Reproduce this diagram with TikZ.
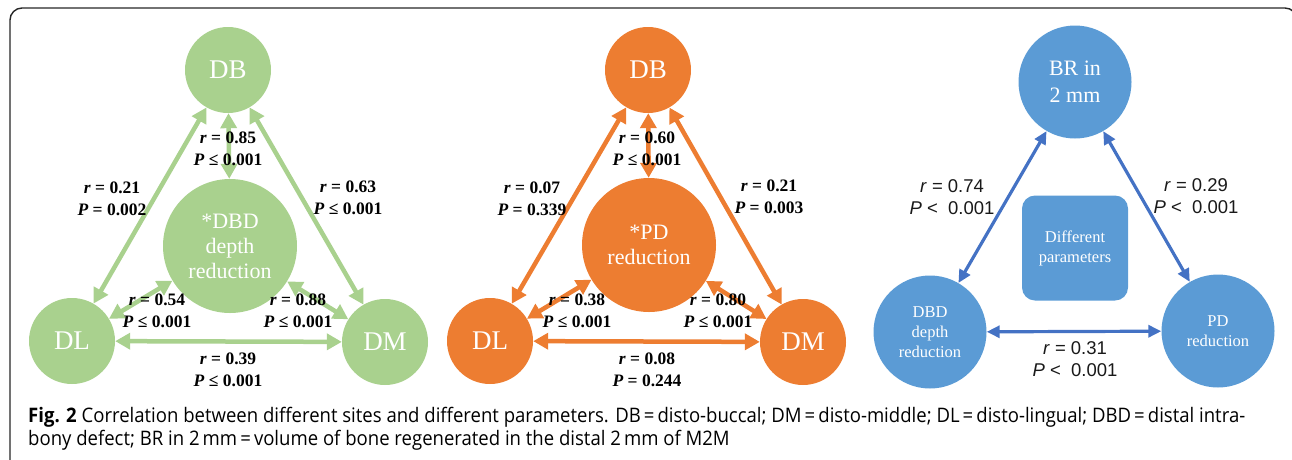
\documentclass[tikz,border=0pt]{standalone}
\usepackage{fontspec}
\setmainfont{Liberation Serif}
\newfontfamily\lsans{Liberation Sans}
\newfontfamily\capfont{Open Sans}
\usetikzlibrary{arrows.meta}
\definecolor{gfill}{HTML}{A9D18E}
\definecolor{garrow}{HTML}{A9D18E}
\definecolor{ofill}{HTML}{ED7D31}
\definecolor{bfill}{HTML}{5B9BD5}
\definecolor{barrow}{HTML}{4472C4}
\newlength\capw
\newcommand\capA{\textbf{Fig. 2} Correlation between different sites and different parameters. DB\,=\,disto-buccal; DM\,=\,disto-middle; DL\,=\,disto-lingual; DBD\,=\,distal intra-}
\newcommand\capB{bony defect; BR in 2\,mm\,=\,volume of bone regenerated in the distal 2\,mm of M2M}
\newcommand\capsize{\capfont\fontsize{20}{23}\selectfont}
\newcommand\plt{\textit{P} <\hspace{0.55em}0.001}
\newsavebox\capboxA
\tikzset{
  site/.style={circle, inner sep=0pt, minimum size=86pt, text=white, font=\fontsize{27}{30}\selectfont},
  bigsite/.style={circle, inner sep=0pt, minimum size=134pt, text=white, align=center, font=\fontsize{22}{25}\selectfont},
  bsite/.style={circle, inner sep=0pt, minimum size=113pt, fill=bfill, text=white, align=center, font=\fontsize{16.5}{20}\selectfont},
  corr/.style={line width=4.5pt, {Triangle[width=16pt,length=15pt]}-{Triangle[width=16pt,length=15pt]}},
  bcorr/.style={draw=barrow, line width=3.2pt, {Triangle[width=12pt,length=13pt]}-{Triangle[width=12pt,length=13pt]}},
  slabel/.style={align=center, inner sep=0pt, font=\fontsize{17.5}{21.5}\selectfont\bfseries},
  blabel/.style={align=center, inner sep=0pt, text=black!90, font=\lsans\fontsize{18.5}{21.5}\selectfont},
}
\begin{document}
\sbox\capboxA{\capsize\capA}%
\setlength\capw{\wd\capboxA}%
\pgfmathsetmacro\capxs{1217/\capw}%
\begin{tikzpicture}[x=1pt,y=-1pt]
\useasboundingbox (0,0) rectangle (1292,459);
\begin{scope}
\clip (0,0) rectangle (1292,459);
\draw[line width=1.4pt, black!85, rounded corners=12pt] (10,470) -- (10,8) -- (1297,8) -- (1297,470);
\end{scope}

% ---------- green panel ----------
\node[site, fill=gfill] (gDB) at (228,70) {DB};
\node[site, fill=gfill] (gDL) at (72,341) {DL};
\node[site, fill=gfill] (gDM) at (385,342) {DM};
\node[bigsite, fill=gfill] (gC) at (230,246) {*DBD\\depth\\reduction};
\draw[corr, draw=garrow, fill=garrow] (gDL) -- (gDB);
\draw[corr, draw=garrow, fill=garrow] (gDM) -- (gDB);
\draw[corr, draw=garrow, fill=garrow] (gC) -- (gDB);
\draw[corr, draw=garrow, fill=garrow] (gC) -- (gDL);
\draw[corr, draw=garrow, fill=garrow] (gC) -- (gDM);
\draw[corr, draw=garrow, fill=garrow] (gDL) -- (gDM);
\node[slabel] (gl1) at (228,149) {\textit{r} = 0.85\\\textit{P} ≤ 0.001};
\node[slabel] (gl2) at (112,199) {\textit{r} = 0.21\\\textit{P} = 0.002};
\node[slabel] (gl3) at (348,198) {\textit{r} = 0.63\\\textit{P} ≤ 0.001};
\node[slabel] (gl4) at (157,311) {\textit{r} = 0.54\\\textit{P} ≤ 0.001};
\node[slabel] (gl5) at (298,311) {\textit{r} = 0.88\\\textit{P} ≤ 0.001};
\node[slabel] (gl6) at (228,370) {\textit{r} = 0.39\\\textit{P} ≤ 0.001};

% ---------- orange panel ----------
\node[site, fill=ofill] (oDB) at (648,70) {DB};
\node[site, fill=ofill] (oDL) at (490,341) {DL};
\node[site, fill=ofill] (oDM) at (803,342) {DM};
\node[bigsite, fill=ofill] (oC) at (649,245) {*PD\\reduction};
\draw[corr, draw=ofill, fill=ofill] (oDL) -- (oDB);
\draw[corr, draw=ofill, fill=ofill] (oDM) -- (oDB);
\draw[corr, draw=ofill, fill=ofill] (oC) -- (oDB);
\draw[corr, draw=ofill, fill=ofill] (oC) -- (oDL);
\draw[corr, draw=ofill, fill=ofill] (oC) -- (oDM);
\draw[corr, draw=ofill, fill=ofill] (oDL) -- (oDM);
\node[slabel] (ol1) at (647,149) {\textit{r} = 0.60\\\textit{P} ≤ 0.001};
\node[slabel] (ol2) at (532,199) {\textit{r} = 0.07\\\textit{P} = 0.339};
\node[slabel] (ol3) at (769,197) {\textit{r} = 0.21\\\textit{P} = 0.003};
\node[slabel] (ol4) at (577,311) {\textit{r} = 0.38\\\textit{P} ≤ 0.001};
\node[slabel] (ol5) at (718,311) {\textit{r} = 0.80\\\textit{P} ≤ 0.001};
\node[slabel] (ol6) at (647,370) {\textit{r} = 0.08\\\textit{P} = 0.244};

% ---------- blue panel ----------
\node[bsite, font=\fontsize{22}{27}\selectfont] (bBR) at (1075,82) {BR in\\2 mm};
\node[bsite] (bDBD) at (930,332) {DBD\\depth\\reduction};
\node[bsite] (bPD) at (1218,331) {PD\\reduction};
\node[rectangle, rounded corners=13pt, fill=bfill, minimum width=106pt, minimum height=105pt, inner sep=0pt, text=white, align=center, font=\fontsize{16.5}{20}\selectfont] (bPar) at (1075,248) {Different\\parameters};
\draw[bcorr, fill=barrow] (bDBD) -- (bBR);
\draw[bcorr, fill=barrow] (bPD) -- (bBR);
\draw[bcorr, fill=barrow] (bDBD) -- (bPD);
\node[blabel] (bl1) at (952,197) {\textit{r} = 0.74\\\plt};
\node[blabel] (bl2) at (1196,196) {\textit{r} = 0.29\\\plt};
\node[blabel] (bl3) at (1075,359) {\textit{r} = 0.31\\\plt};

% ---------- caption ----------
\node[anchor=base west, inner sep=0pt, font=\capsize] (cap1) at (28,422) {\scalebox{\capxs}[1]{\capA}};
\node[anchor=base west, inner sep=0pt, font=\capsize] (cap2) at (28,445) {\scalebox{\capxs}[1]{\capB}};
\end{tikzpicture}
\end{document}
